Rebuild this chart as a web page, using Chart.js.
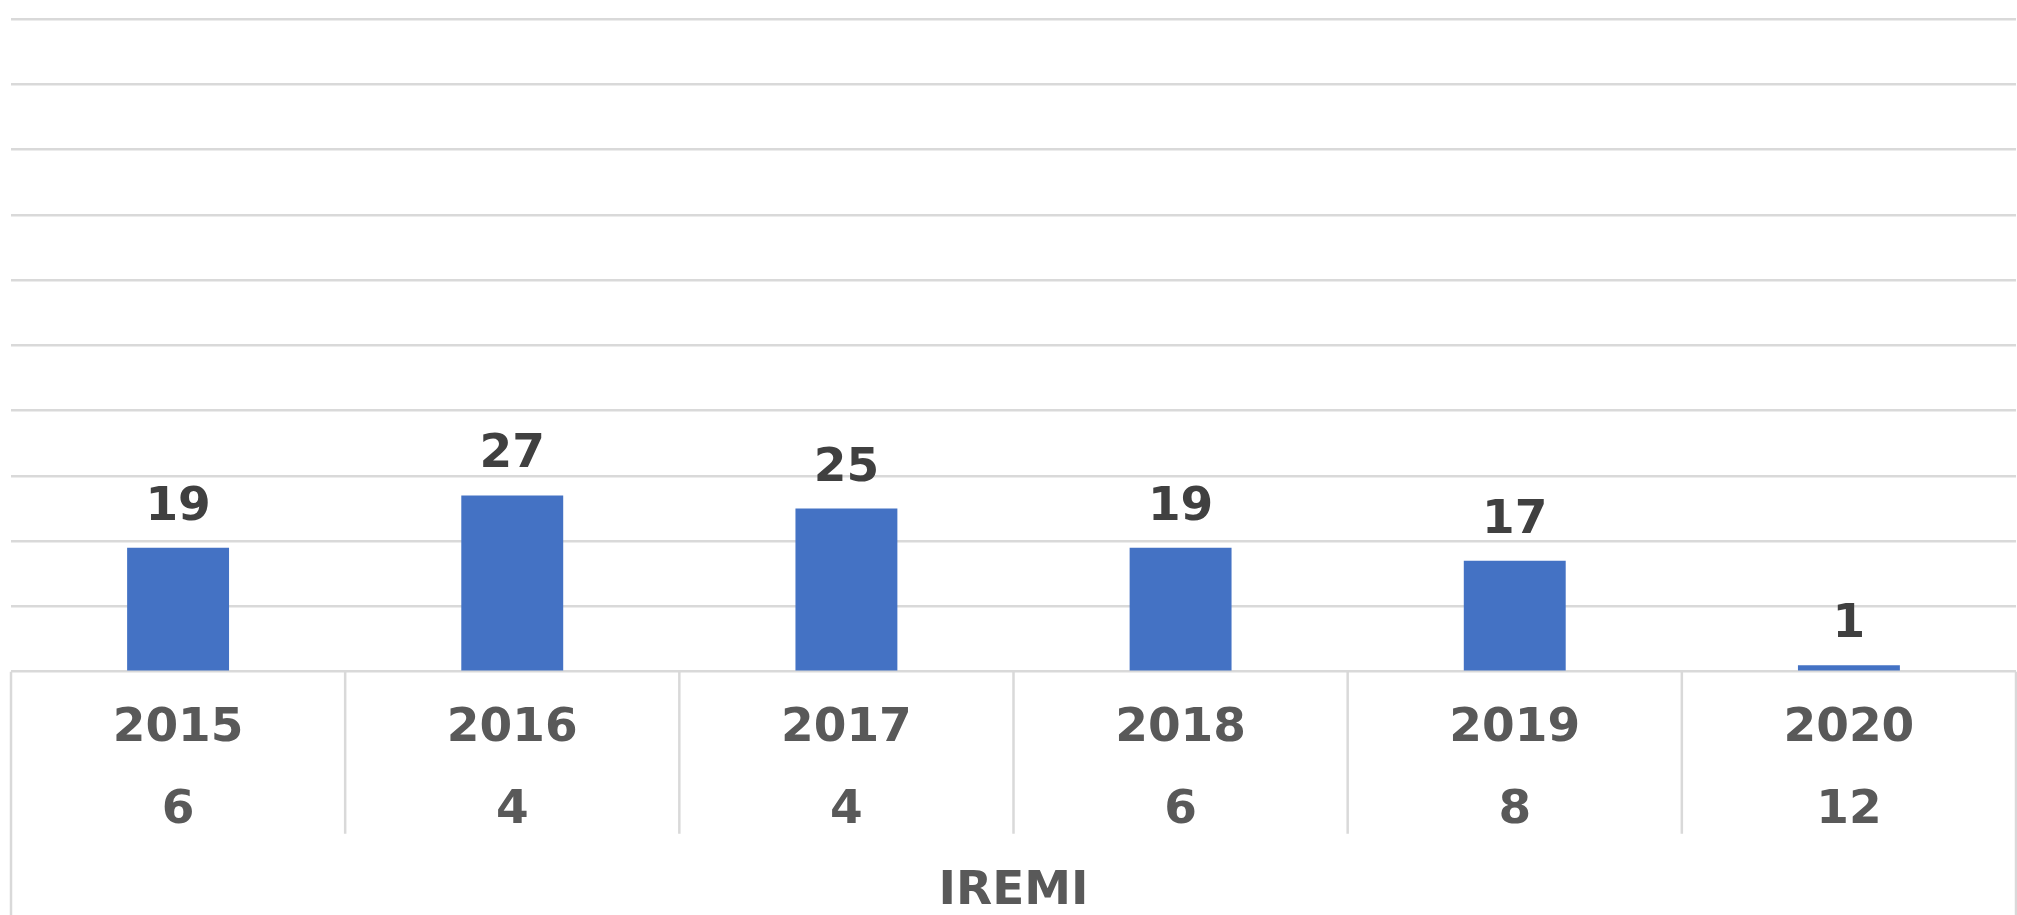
<!DOCTYPE html>
<html>
<head>
<meta charset="utf-8">
<title>IREMI</title>
<script src="https://cdn.jsdelivr.net/npm/chart.js@4.4.1/dist/chart.umd.min.js"></script>
<style>
  html, body { margin: 0; padding: 0; background: #ffffff; }
  #wrap { width: 2017px; height: 915px; }
</style>
</head>
<body>
<div id="wrap"><canvas id="chart" width="2017" height="915"></canvas></div>
<script>
// chart data
const years = ['2015', '2016', '2017', '2018', '2019', '2020'];
const counts = [6, 4, 4, 6, 8, 12];
const values = [19, 27, 25, 19, 17, 1];
const groupTitle = 'IREMI';

const gridColor = '#d9d9d9';
const labelFont = { family: "'DejaVu Sans', sans-serif", size: 47, weight: 'bold', lineHeight: 1.745 };

// draws the table lines under the plot and the value labels above the bars
const tableAndLabels = {
    id: 'tableAndLabels',
    afterDraw(chart) {
        const ctx = chart.ctx;
        const area = chart.chartArea;
        const xs = chart.scales.x;
        const n = years.length;
        const rowsBottom = xs.top + 2 * labelFont.size * labelFont.lineHeight - 2;

        ctx.save();
        ctx.strokeStyle = gridColor;
        ctx.lineWidth = 2.5;
        for (let i = 0; i <= n; i++) {
            let px;
            if (i === 0) px = area.left;
            else if (i === n) px = area.right;
            else px = (xs.getPixelForValue(i - 1) + xs.getPixelForValue(i)) / 2;
            const bottom = (i === 0 || i === n) ? chart.height : rowsBottom;
            ctx.beginPath();
            ctx.moveTo(px, area.bottom);
            ctx.lineTo(px, bottom);
            ctx.stroke();
        }

        ctx.fillStyle = '#404040';
        ctx.font = 'bold 47px "DejaVu Sans", sans-serif';
        ctx.textAlign = 'center';
        ctx.textBaseline = 'alphabetic';
        chart.getDatasetMeta(0).data.forEach((bar, i) => {
            ctx.fillText(String(values[i]), bar.x, bar.y - 28);
        });
        ctx.restore();
    }
};

const ctx = document.getElementById('chart').getContext('2d');
const chart = new Chart(ctx, {
    type: 'bar',
    data: {
        labels: years.map((y, i) => [y, String(counts[i])]),
        datasets: [{
            label: groupTitle,
            data: values,
            backgroundColor: '#4472c4',
            borderWidth: 0,
            barPercentage: 0.305,
            categoryPercentage: 1
        }]
    },
    options: {
        responsive: false,
        animation: false,
        devicePixelRatio: 1,
        layout: { padding: { top: 19, left: 11, right: 1, bottom: 0 } },
        scales: {
            y: {
                min: 0,
                max: 100,
                ticks: { display: false, stepSize: 10 },
                grid: { color: gridColor, lineWidth: 2.5, drawTicks: false },
                border: { display: false }
            },
            x: {
                grid: { display: false },
                border: { display: false },
                ticks: {
                    color: '#595959',
                    font: labelFont,
                    padding: 8,
                    maxRotation: 0,
                    autoSkip: false
                },
                title: {
                    display: true,
                    text: groupTitle,
                    color: '#595959',
                    font: { family: "'DejaVu Sans', sans-serif", size: 47, weight: 'bold', lineHeight: 0.75 },
                    padding: { top: 14, bottom: 6 }
                }
            }
        },
        plugins: {
            legend: { display: false },
            tooltip: { enabled: false }
        }
    },
    plugins: [tableAndLabels]
});
</script>
</body>
</html>
